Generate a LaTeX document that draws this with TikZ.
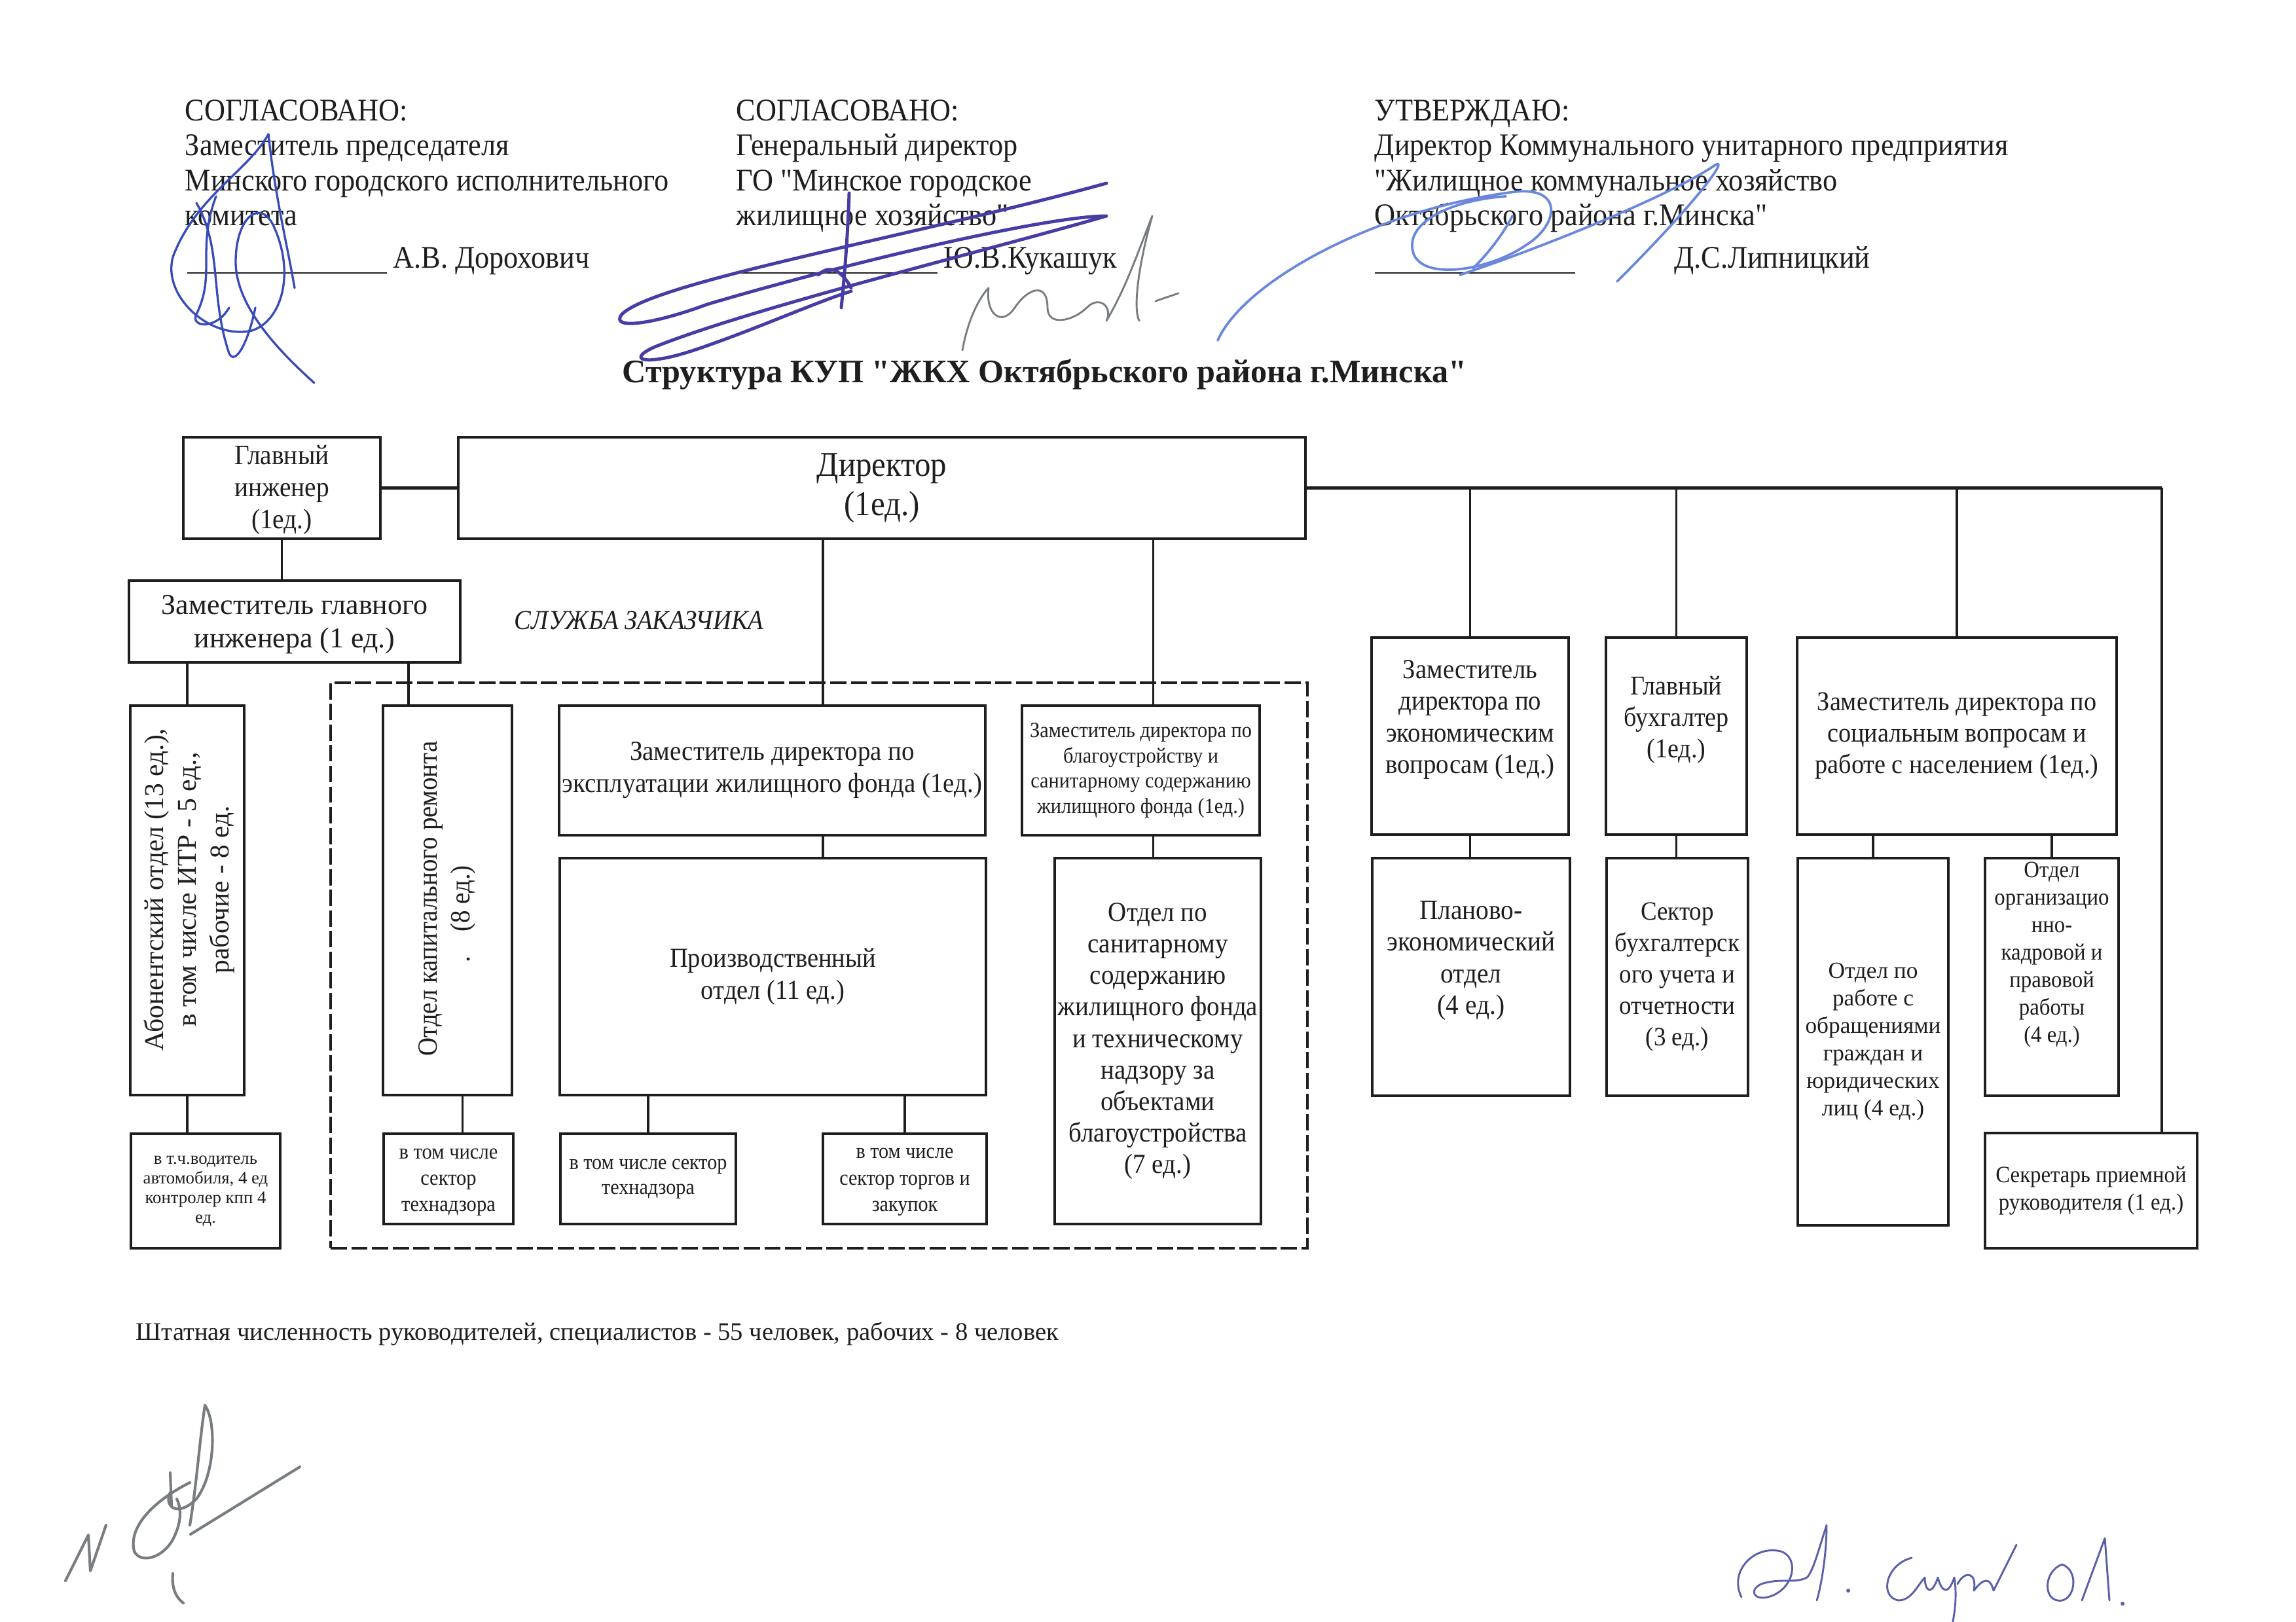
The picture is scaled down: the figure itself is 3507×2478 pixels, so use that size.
\documentclass[tikz,border=0pt]{standalone}
\usepackage{fontspec}
\setmainfont{Liberation Serif}
\newfontfamily\nf[FakeStretch=0.92]{Liberation Serif}
\font\qhdr="Liberation Serif:extend=0.92" at 11.6pt
\font\qttl="Liberation Serif/B" at 12.1pt
\newcommand\qh{{\qhdr\char34}}
\newcommand\qt{{\qttl\char34}}
\usetikzlibrary{fit,calc}
\newlength\pxu \setlength\pxu{0.0846667mm}
\newcommand\fsz[2]{\fontsize{#1pt}{#2pt}\selectfont}
\definecolor{ink}{RGB}{30,30,30}
\definecolor{sigA}{RGB}{55,75,185}
\definecolor{sigB}{RGB}{70,60,165}
\definecolor{sigC}{RGB}{105,135,220}
\definecolor{sigG}{RGB}{120,125,130}
\definecolor{sigD}{RGB}{90,95,170}
\begin{document}
\begin{tikzpicture}[x=0.0846667mm,y=-0.0846667mm,
  box/.style={draw=ink,line width=1pt,inner sep=0pt,rectangle},
  dashbox/.style={draw=ink,line width=1pt,inner sep=0pt,rectangle,dash pattern=on 6pt off 1.6pt},
  conn/.style={draw=ink,line width=0.8pt},
  bus/.style={draw=ink,line width=1.1pt},
  txt/.style={align=center,inner sep=0pt,text=ink},
  hdr/.style={anchor=base west,inner sep=0pt,text=ink,font=\nf\fsz{11.6}{13}},
  sig/.style={line width=0.8pt,line cap=round,line join=round},
]
\useasboundingbox (0,0) rectangle (3507,2478);
\fill[white] (0,0) rectangle (3507,2478);

% ---------- header ----------
\node[hdr] (h1a) at (282,185) {СОГЛАСОВАНО:};
\node[hdr] (h1b) at (282,238) {Заместитель председателя};
\node[hdr] (h1c) at (282,292) {Минского городского исполнительного};
\node[hdr] (h1d) at (282,345) {комитета};
\node[hdr] (h1e) at (285,410) {\rule[-2pt]{73.4pt}{0.6pt}\hspace{2.4pt}А.В. Дорохович};

\node[hdr] (h2a) at (1124,185) {СОГЛАСОВАНО:};
\node[hdr] (h2b) at (1124,238) {Генеральный директор};
\node[hdr] (h2c) at (1124,292) {ГО \qh Минское городское};
\node[hdr] (h2d) at (1124,345) {жилищное хозяйство\qh};
\node[hdr] (h2e) at (1124,410) {\rule[-2pt]{74pt}{0.6pt}\hspace{2.4pt}Ю.В.Кукашук};

\node[hdr] (h3a) at (2099,185) {УТВЕРЖДАЮ:};
\node[hdr] (h3b) at (2099,238) {Директор Коммунального унитарного предприятия};
\node[hdr] (h3c) at (2099,292) {\qh Жилищное коммунальное хозяйство};
\node[hdr] (h3d) at (2099,345) {Октябрьского района г.Минска\qh};
\node[hdr] (h3e) at (2099,410) {\rule[-2pt]{73.7pt}{0.6pt}\hspace{36.5pt}Д.С.Липницкий};

\node[hdr,font=\fsz{12.1}{14}\bfseries] (title) at (950,585) {Структура КУП \qt ЖКХ Октябрьского района г.Минска\qt};

\node[hdr,font=\fsz{9.3}{11}] (foot) at (207,2047) {Штатная численность руководителей, специалистов - 55 человек, рабочих - 8 человек};

% ---------- boxes ----------
\node[box,fit={(280,668)(581,823)}] (gi) {};
\node[box,fit={(700,668)(1994,823)}] (dir) {};
\node[box,fit={(197,887)(703,1012)}] (zgi) {};
\node[dashbox,fit={(505,1043)(1997,1907)}] (sz) {};
\node[box,fit={(199,1078)(373,1673)}] (abon) {};
\node[box,fit={(585,1078)(782,1673)}] (kap) {};
\node[box,fit={(854,1078)(1505,1276)}] (zexp) {};
\node[box,fit={(1561,1078)(1924,1276)}] (zbl) {};
\node[box,fit={(855,1311)(1506,1673)}] (prod) {};
\node[box,fit={(1611,1311)(1926,1870)}] (san) {};
\node[box,fit={(200,1732)(428,1907)}] (vod) {};
\node[box,fit={(586,1732)(784,1870)}] (kaps) {};
\node[box,fit={(856,1732)(1124,1870)}] (prs1) {};
\node[box,fit={(1257,1732)(1507,1870)}] (prs2) {};
\node[box,fit={(2095,974)(2396,1275)}] (zec) {};
\node[box,fit={(2453,974)(2668,1275)}] (gb) {};
\node[box,fit={(2745,974)(3233,1275)}] (zsoc) {};
\node[box,fit={(2096,1311)(2398,1674)}] (plan) {};
\node[box,fit={(2454,1311)(2670,1674)}] (sb) {};
\node[box,fit={(2746,1311)(2976,1872)}] (obr) {};
\node[box,fit={(3032,1311)(3236,1674)}] (org) {};
\node[box,fit={(3032,1731)(3356,1907)}] (sec) {};

% ---------- box texts ----------
\node[txt,font=\nf\fsz{10.3}{11.8}] (gi-t) at ($(gi.center)+(0,3)$) {Главный\\инженер\\(1ед.)};
\node[txt,font=\nf\fsz{12.8}{14.4}] (dir-t) at (dir.center) {Директор\\(1ед.)};
\node[txt,font=\fsz{10.6}{12.3}] (zgi-t) at ($(zgi.center)+(0,5)$) {Заместитель главного\\инженера (1 ед.)};
\node[txt,font=\nf\fsz{10.1}{12}\itshape] (sz-t) at (976,948) {СЛУЖБА ЗАКАЗЧИКА};
\node[txt,font=\fsz{10}{12},rotate=90] (abon-t) at (289,1359) {Абонентский отдел (13 ед.),\\в том числе ИТР - 5 ед.,\\рабочие - 8 ед.};
\node[txt,font=\nf\fsz{10.2}{12.2},rotate=90] (kap-t) at (683,1373) {Отдел капитального ремонта\\\llap{.\hspace{9pt}}(8 ед.)};
\node[txt,font=\nf\fsz{10.2}{11.8}] (zexp-t) at (zexp.center) {Заместитель директора по\\эксплуатации жилищного фонда (1ед.)};
\node[txt,font=\nf\fsz{7.95}{9.3}] (zbl-t) at (zbl.center) {Заместитель директора по\\благоустройству и\\санитарному содержанию\\жилищного фонда (1ед.)};
\node[txt,font=\nf\fsz{10.1}{11.8}] (prod-t) at (prod.center) {Производственный\\отдел (11 ед.)};
\node[txt,font=\nf\fsz{10.2}{11.6}] (san-t) at (san.center) {Отдел по\\санитарному\\содержанию\\жилищного фонда\\и техническому\\надзору за\\объектами\\благоустройства\\(7 ед.)};
\node[txt,font=\fsz{6.45}{7.2}] (vod-t) at (vod.center) {в т.ч.водитель\\автомобиля, 4 ед\\контролер кпп 4\\ед.};
\node[txt,font=\nf\fsz{8}{9.7}] (kaps-t) at ($(kaps.center)+(0,5)$) {в том числе\\сектор\\технадзора};
\node[txt,font=\nf\fsz{7.9}{9.2}] (prs1-t) at (prs1.center) {в том числе сектор\\технадзора};
\node[txt,font=\nf\fsz{7.9}{9.7}] (prs2-t) at ($(prs2.center)+(0,5)$) {в том числе\\сектор торгов и\\закупок};
\node[txt,font=\nf\fsz{10.15}{11.6}] (zec-t) at ($(zec.center)+(0,-25)$) {Заместитель\\директора по\\экономическим\\вопросам (1ед.)};
\node[txt,font=\nf\fsz{10}{11.6}] (gb-t) at ($(gb.center)+(0,-25)$) {Главный\\бухгалтер\\(1ед.)};
\node[txt,font=\nf\fsz{10}{11.6}] (zsoc-t) at (zsoc.center) {Заместитель директора по\\социальным вопросам и\\работе с населением (1ед.)};
\node[txt,font=\nf\fsz{10.3}{11.6}] (plan-t) at ($(plan.center)+(0,-25)$) {Планово-\\экономический\\отдел\\(4 ед.)};
\node[txt,font=\nf\fsz{9.7}{11.6}] (sb-t) at (sb.center) {Сектор\\бухгалтерск\\ого учета и\\отчетности\\(3 ед.)};
\node[txt,font=\fsz{8.5}{10.1}] (obr-t) at (obr.center) {Отдел по\\работе с\\обращениями\\граждан и\\юридических\\лиц (4 ед.)};
\node[txt,font=\nf\fsz{8.6}{10.1}] (org-t) at ($(org.center)+(0,-34)$) {Отдел\\организацио\\нно-\\кадровой и\\правовой\\работы\\(4 ед.)};
\node[txt,font=\nf\fsz{8.6}{10.2}] (sec-t) at (sec.center) {Секретарь приемной\\руководителя (1 ед.)};

% ---------- connectors ----------
\draw[bus] (gi.east) -- (dir.west);
\draw[conn] (gi.south) -- (gi.south |- zgi.north);
\draw[conn] (abon.north) -- (abon.north |- zgi.south);
\coordinate (kapin) at ($(kap.north west)+(41,0)$);
\draw[conn] (kapin) -- (kapin |- zgi.south);
\coordinate (d1) at ($(zexp.north east)+(-250,0)$);
\draw[conn] (d1) -- (d1 |- dir.south);
\draw[conn] (d1 |- zexp.south) -- (d1 |- prod.north);
\coordinate (d2) at ($(zbl.north)+(19,0)$);
\draw[conn] (d2) -- (d2 |- dir.south);
\draw[conn] (d2 |- zbl.south) -- (d2 |- san.north);
\draw[conn] (abon.south) -- (abon.south |- vod.north);
\coordinate (k2) at ($(kap.south)+(23,0)$);
\draw[conn] (k2) -- (k2 |- kaps.north);
\draw[conn] (prs1.north) -- (prs1.north |- prod.south);
\draw[conn] (prs2.north) -- (prs2.north |- prod.south);

\coordinate (busend) at ($(dir.east)+(1306,0)$);
\draw[bus] (dir.east) -- (busend);
\draw[conn] (busend) -- (busend |- sec.north);
\draw[conn] (zec.north) -- (zec.north |- dir.east);
\draw[conn] (gb.north) -- (gb.north |- dir.east);
\draw[conn] (zsoc.north) -- (zsoc.north |- dir.east);
\draw[conn] (zec.south) -- (zec.south |- plan.north);
\draw[conn] (gb.south) -- (gb.south |- sb.north);
\draw[conn] (obr.north) -- (obr.north |- zsoc.south);
\draw[conn] (org.north) -- (org.north |- zsoc.south);

% ---------- signatures (handwriting) ----------
\begin{scope}[sig,draw=sigA]
\draw (410,205) .. controls (380,260) and (300,300) .. (265,390) .. controls (245,450) and (320,520) .. (385,505) .. controls (430,490) and (450,420) .. (420,350) .. controls (400,300) and (360,330) .. (360,400) .. controls (360,470) and (430,540) .. (480,585);
\draw (300,310) .. controls (340,380) and (320,450) .. (350,540) .. controls (360,560) and (380,520) .. (390,470);
\draw (330,300) .. controls (300,380) and (330,420) .. (300,480) .. controls (290,500) and (330,505) .. (350,470);
\draw (410,205) .. controls (420,300) and (440,380) .. (450,440);
\end{scope}
\begin{scope}[sig,draw=sigB,line width=1.2pt]
\draw (1690,280) .. controls (1400,360) and (1000,430) .. (950,480) .. controls (930,505) and (1000,495) .. (1080,465) .. controls (1300,400) and (1600,330) .. (1690,330) .. controls (1500,385) and (1150,470) .. (1000,530) .. controls (955,550) and (985,560) .. (1060,535) .. controls (1150,505) and (1250,460) .. (1300,445);
\draw (1297,295) .. controls (1295,360) and (1290,420) .. (1285,470);
\draw (1250,420) .. controls (1270,400) and (1290,420) .. (1300,440);
\end{scope}
\begin{scope}[sig,draw=sigG,line width=0.7pt]
\draw (1470,535) .. controls (1480,480) and (1500,450) .. (1510,440) .. controls (1505,480) and (1530,500) .. (1550,470) .. controls (1570,440) and (1600,430) .. (1600,470) .. controls (1600,500) and (1640,490) .. (1660,470) .. controls (1680,450) and (1700,470) .. (1690,490) .. controls (1720,440) and (1740,380) .. (1760,330) .. controls (1740,400) and (1730,470) .. (1740,490);
\draw (1765,460) -- (1800,448);
\end{scope}
\begin{scope}[sig,draw=sigC,line width=0.9pt]
\draw (1860,520) .. controls (1900,430) and (2100,320) .. (2314,293) .. controls (2390,285) and (2380,345) .. (2330,375) .. controls (2280,410) and (2180,430) .. (2160,390) .. controls (2140,340) and (2220,305) .. (2300,300);
\draw (2230,420) .. controls (2350,380) and (2550,300) .. (2620,252) .. controls (2640,240) and (2600,300) .. (2470,430);
\draw (2250,410) .. controls (2280,380) and (2300,350) .. (2310,330);
\end{scope}
\begin{scope}[sig,draw=sigG,line width=1pt]
\draw (100,2415) -- (135,2345) -- (138,2400) -- (162,2330);
\draw (313,2147) .. controls (330,2170) and (330,2250) .. (300,2290) .. controls (270,2320) and (250,2300) .. (260,2280);
\draw (313,2147) .. controls (305,2200) and (300,2270) .. (290,2330);
\draw (290,2265) .. controls (240,2290) and (195,2330) .. (205,2370) .. controls (215,2390) and (250,2380) .. (265,2350) .. controls (280,2320) and (275,2300) .. (270,2290);
\draw (260,2250) -- (262,2300);
\draw (291,2344) -- (458,2241);
\draw (264,2404) .. controls (262,2425) and (268,2440) .. (280,2449);
\end{scope}
\begin{scope}[sig,draw=sigD,line width=0.7pt]
\draw (2660,2440) .. controls (2640,2400) and (2680,2360) .. (2720,2370) .. controls (2750,2380) and (2740,2430) .. (2700,2440) .. controls (2680,2445) and (2670,2430) .. (2690,2420) .. controls (2720,2410) and (2740,2420) .. (2760,2410) .. controls (2770,2400) and (2780,2360) .. (2790,2330) .. controls (2790,2380) and (2780,2430) .. (2775,2445);
\fill[sigD] (2823,2430) circle (3);
\draw (2920,2380) .. controls (2880,2390) and (2870,2440) .. (2900,2445) .. controls (2920,2445) and (2930,2420) .. (2940,2410) .. controls (2940,2430) and (2950,2440) .. (2960,2410) .. controls (2965,2430) and (2975,2440) .. (2985,2410) .. controls (2990,2440) and (2985,2470) .. (2980,2490);
\draw (2990,2420) .. controls (3000,2400) and (3020,2400) .. (3015,2430) .. controls (3030,2410) and (3040,2410) .. (3045,2430) .. controls (3060,2400) and (3070,2380) .. (3080,2360);
\draw (3150,2390) .. controls (3120,2400) and (3120,2450) .. (3150,2445) .. controls (3170,2440) and (3175,2400) .. (3150,2390);
\draw (3180,2445) -- (3215,2350) -- (3222,2445);
\fill[sigD] (3242,2450) circle (3);
\end{scope}
\end{tikzpicture}
\end{document}
